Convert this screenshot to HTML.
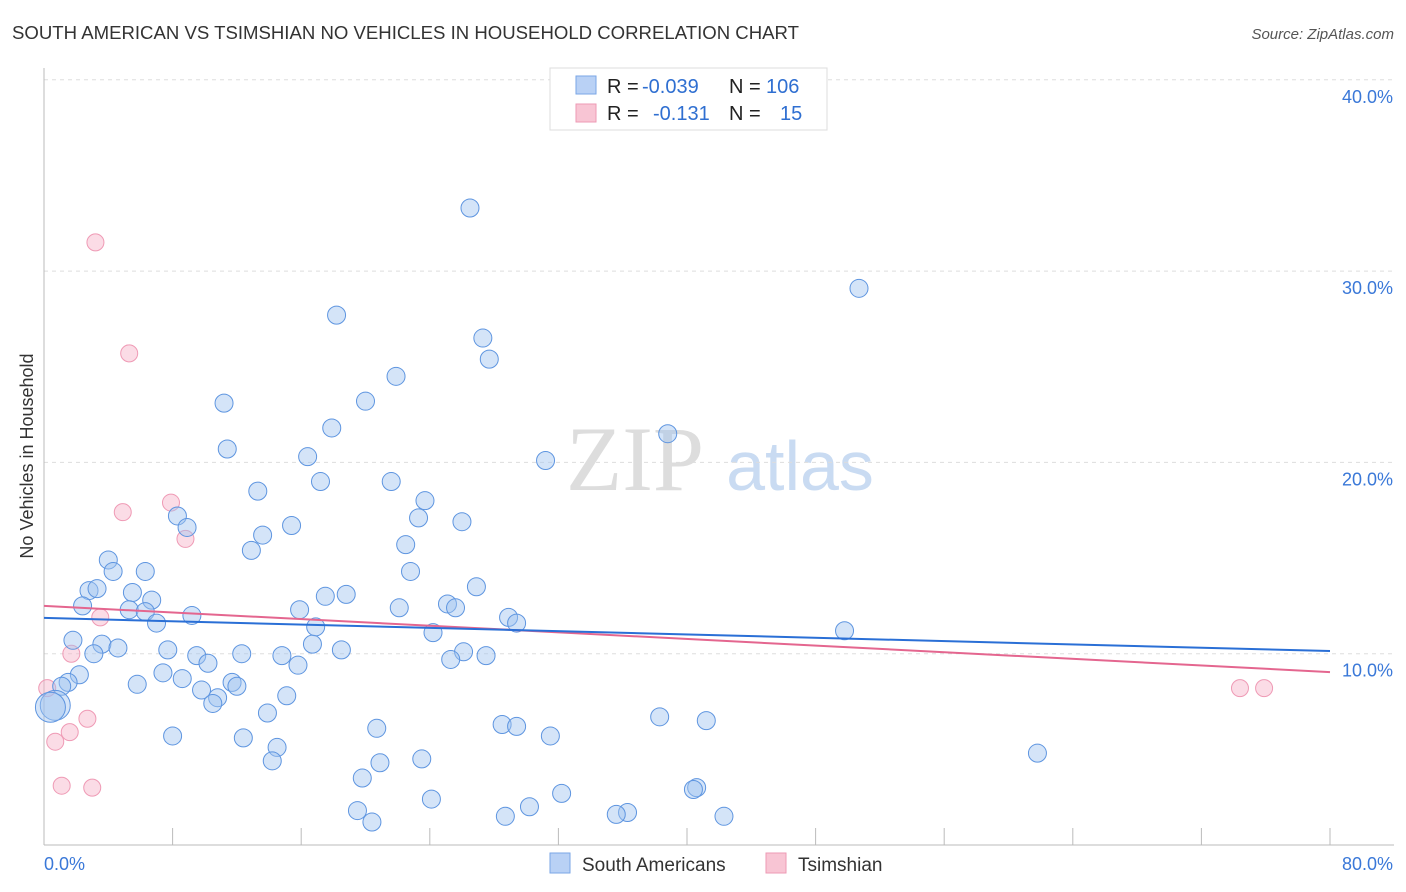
<!DOCTYPE html>
<html><head><meta charset="utf-8"><style>
body{margin:0;background:#fff;font-family:"Liberation Sans",sans-serif}
svg{display:block}
</style></head><body>
<svg id="chart" width="1406" height="892" xmlns="http://www.w3.org/2000/svg">
<text x="12" y="39" font-size="18" fill="#333" textLength="787" lengthAdjust="spacingAndGlyphs">SOUTH AMERICAN VS TSIMSHIAN NO VEHICLES IN HOUSEHOLD CORRELATION CHART</text>
<text x="1394" y="39" font-size="15" fill="#555" font-style="italic" text-anchor="end">Source: ZipAtlas.com</text>
<text x="33" y="456" font-size="18" fill="#333" text-anchor="middle" transform="rotate(-90 33 456)">No Vehicles in Household</text>
<g><text x="635" y="490" font-size="92" fill="#ddd" font-family="Liberation Serif,serif" text-anchor="middle">ZIP</text><text x="800" y="490" font-size="70" fill="#c9dbf2" text-anchor="middle">atlas</text></g>
<g id="grid"></g><g id="axes"></g><g id="pts"></g><g id="lines"></g>
<g>
<rect x="550" y="68" width="277" height="62" fill="#fff" stroke="#ddd"/>
<rect x="576" y="76" width="20" height="18" fill="#b9d1f5" stroke="#7aa6e6"/>
<rect x="576" y="104" width="20" height="18" fill="#f8c5d4" stroke="#ee9ab4"/>
<text x="607" y="93" font-size="20" fill="#222">R = <tspan x="642" fill="#2f6fd1">-0.039</tspan><tspan x="729">N = </tspan><tspan x="766" fill="#2f6fd1">106</tspan></text>
<text x="607" y="120" font-size="20" fill="#222">R = <tspan x="653" fill="#2f6fd1">-0.131</tspan><tspan x="729">N = </tspan><tspan x="780" fill="#2f6fd1">15</tspan></text>
</g>
<g>
<rect x="550" y="853" width="20" height="20" fill="#b9d1f5" stroke="#7aa6e6"/>
<text x="582" y="871" font-size="19" fill="#333">South Americans</text>
<rect x="766" y="853" width="20" height="20" fill="#f8c5d4" stroke="#ee9ab4"/>
<text x="798" y="871" font-size="19" fill="#333">Tsimshian</text>
</g>
</svg>
<script>
const blueX=[26.5,50.7,18.2,27.3,27.7,21.9,11.2,20.0,17.9,38.8,11.4,16.4,31.2,13.3,17.2,21.6,23.7,8.3,8.9,23.3,26.0,15.4,13.6,22.5,12.9,4.0,4.3,6.3,22.8,26.9,2.8,3.3,5.5,6.7,17.5,18.8,2.4,5.3,6.3,15.9,22.1,25.1,25.6,9.2,28.9,7.0,29.4,16.9,24.2,49.8,1.8,3.6,4.6,16.7,18.5,3.1,7.7,9.5,12.3,14.8,26.1,27.5,10.2,15.8,25.3,7.4,2.2,8.6,5.8,1.5,1.1,11.7,12.0,9.8,15.1,10.8,10.5,0.7,0.4,13.9,38.3,41.2,28.5,29.4,20.7,8.0,12.4,31.5,14.5,14.2,20.9,23.5,61.8,19.8,32.2,40.6,40.4,24.1,30.2,19.5,36.3,35.6,28.7,42.3,20.4];
const blueY=[33.3,29.1,27.7,26.5,25.4,24.5,23.1,23.2,21.8,21.5,20.7,20.3,20.1,18.5,19.0,19.0,18.0,17.2,16.6,17.1,16.9,16.7,16.2,15.7,15.4,14.9,14.3,14.3,14.3,13.5,13.3,13.4,13.2,12.8,13.0,13.1,12.5,12.3,12.2,12.3,12.4,12.6,12.4,12.0,11.9,11.6,11.6,11.4,11.1,11.2,10.7,10.5,10.3,10.5,10.2,10.0,10.2,9.9,10.0,9.9,10.1,9.9,9.5,9.4,9.7,9.0,8.9,8.7,8.4,8.5,8.3,8.5,8.3,8.1,7.8,7.7,7.4,7.3,7.2,6.9,6.7,6.5,6.3,6.2,6.1,5.7,5.6,5.7,5.1,4.4,4.3,4.5,4.8,3.5,2.7,3.0,2.9,2.4,2.0,1.8,1.7,1.6,1.5,1.5,1.2];
const pinkX=[3.2,5.3,7.9,4.9,8.8,3.5,1.7,0.2,2.7,1.6,0.7,1.1,3.0,74.4,75.9];
const pinkY=[31.5,25.7,17.9,17.4,16.0,11.9,10.0,8.2,6.6,5.9,5.4,3.1,3.0,8.2,8.2];
const blueTrend=[11.87,10.14];
const pinkTrend=[12.5,9.04];
const yTicks=[10,20,30,40];
const xTickLabels=["0.0%","80.0%"];
const NS="http://www.w3.org/2000/svg";
const sx=v=>44+v*(1286/80), sy=v=>845-v*19.13;
function mk(p,t,a){const e=document.createElementNS(NS,t);for(const k in a)e.setAttribute(k,a[k]);document.getElementById(p).appendChild(e);return e;}
yTicks.forEach(t=>{
 const g=mk('grid','line',{x1:44,x2:1394,y1:sy(t),y2:sy(t),stroke:'#ddd','stroke-dasharray':'4 4'});
 
 
 const l=mk('axes','text',{x:1393,y:sy(t)+23,'font-size':18,fill:'#3a78d8','text-anchor':'end'});l.textContent=t.toFixed(1)+'%';
 
 
});
mk('axes','line',{x1:44,x2:44,y1:68,y2:845,stroke:'#bbb'});
mk('axes','line',{x1:44,x2:1394,y1:845,y2:845,stroke:'#bbb'});
for(let i=1;i<=10;i++){const t=mk('axes','line',{x1:sx(i*8),x2:sx(i*8),y1:828,y2:845,stroke:'#bbb'});
 
 }
let a=mk('axes','text',{x:44,y:870,'font-size':18,fill:'#3a78d8'});a.textContent=xTickLabels[0];


a=mk('axes','text',{x:1393,y:870,'font-size':18,fill:'#3a78d8','text-anchor':'end'});a.textContent=xTickLabels[1];


pinkX.forEach((x,i)=>{const c=mk('pts','circle',{cx:sx(x),cy:sy(pinkY[i]),r:8.5,fill:'rgba(246,178,200,0.45)',stroke:'#ef9ab5','stroke-width':1});
 
 });
blueX.forEach((x,i)=>{const r=(i==77||i==78)?15:9;const c=mk('pts','circle',{cx:sx(x),cy:sy(blueY[i]),r:r,fill:'rgba(160,196,240,0.45)',stroke:'#5e95e0','stroke-width':1});
 
 });
let ln=mk('lines','line',{x1:sx(0),x2:sx(80),y1:sy(pinkTrend[0]),y2:sy(pinkTrend[1]),stroke:'#e4668f','stroke-width':2});


ln=mk('lines','line',{x1:sx(0),x2:sx(80),y1:sy(blueTrend[0]),y2:sy(blueTrend[1]),stroke:'#2a6fd6','stroke-width':2});


</script>
</body></html>
